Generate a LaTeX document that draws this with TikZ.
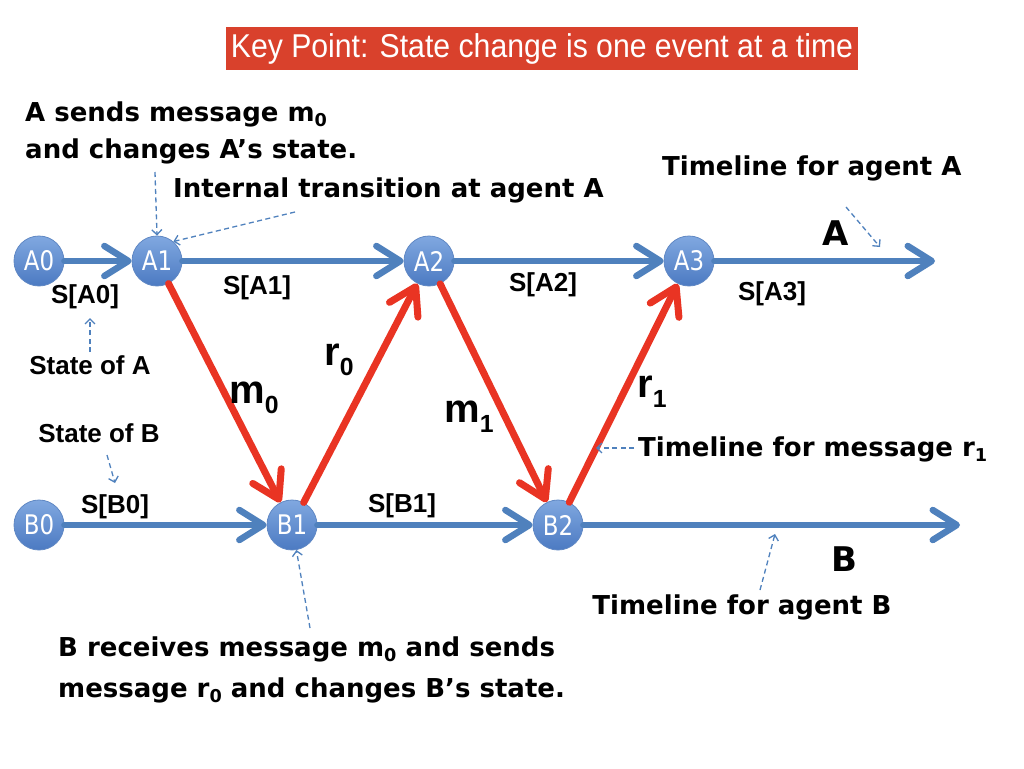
\documentclass[tikz,border=0pt]{standalone}
\usepackage{fontspec}
\usepackage{graphicx}
\setmainfont{Liberation Sans}
\newfontfamily\tah{DejaVu Sans}
\newfontfamily\tahc[FakeStretch=0.85]{DejaVu Sans}
\newfontfamily\arn[FakeStretch=0.915]{Liberation Sans}
\usetikzlibrary{arrows.meta}
\definecolor{tlblue}{RGB}{79,129,189}
\definecolor{msgred}{RGB}{233,52,35}
\definecolor{keyred}{RGB}{217,65,44}
\definecolor{ballhi}{RGB}{128,168,224}
\definecolor{balllo}{RGB}{76,122,194}
\definecolor{ballrim}{RGB}{96,136,196}
\newcommand\lo[1]{\raisebox{-0.22em}{\scalebox{0.68}{#1}}}
\newcommand\bigsub[1]{\raisebox{-0.27em}{\scalebox{0.62}{#1}}}
\begin{document}
\begin{tikzpicture}[x=1pt,y=-1pt,
  ev/.style={circle, minimum size=50pt, inner sep=0pt, top color=ballhi, bottom color=balllo,
    draw=ballrim, line width=0.8pt, text=white, font=\tahc\fontsize{27}{27}\selectfont},
  tl/.style={draw=tlblue, line width=6.5pt, line cap=round, line join=round,
    -{Straight Barb[length=24pt,width=30pt,line cap=round,line join=round]}},
  msg/.style={draw=msgred, line width=7pt, line cap=round, line join=round,
    -{Straight Barb[length=26pt,width=32pt,line cap=round,line join=round]}},
  ptr/.style={draw=tlblue, line width=1.3pt, dash pattern=on 5pt off 3.5pt,
    -{Straight Barb[length=5pt,width=10pt]}},
  ann/.style={font=\tah\bfseries\fontsize{26}{30}\selectfont, inner sep=0pt},
  lab/.style={font=\bfseries\fontsize{26}{30}\selectfont, inner sep=0pt},
  lbl/.style={font=\bfseries\fontsize{40}{40}\selectfont, inner sep=0pt},
  agent/.style={font=\tah\bfseries\fontsize{34}{34}\selectfont, inner sep=0pt},
]
\useasboundingbox (0,0) rectangle (1024,768);
\fill[white] (0,0) rectangle (1024,768);

% title
\node[fill=keyred, text=white, font=\arn\fontsize{33}{33}\selectfont, minimum width=632pt,
  minimum height=43pt, inner sep=0pt] (key) at (542,48.5)
  {Key Point: State change is one event at a time};

% event nodes
\node[ev] (A0) at (39,261) {A0};
\node[ev] (A1) at (157,261) {A1};
\node[ev] (A2) at (429,261) {A2};
\node[ev] (A3) at (689,261) {A3};
\node[ev] (B0) at (39,525) {B0};
\node[ev] (B1) at (292,525) {B1};
\node[ev] (B2) at (558,525) {B2};
\coordinate (Aend) at (935,261);
\coordinate (Bend) at (960,525);

% timelines
\draw[tl] (A0) -- (A1);
\draw[tl] (A1) -- (A2);
\draw[tl] (A2) -- (A3);
\draw[tl] (A3) -- (Aend);
\draw[tl] (B0) -- (B1);
\draw[tl] (B1) -- (B2);
\draw[tl] (B2) -- (Bend);

% messages
\draw[msg] (A1) -- (B1);
\draw[msg] (B1) -- (A2);
\draw[msg] (A2) -- (B2);
\draw[msg] (B2) -- (A3);

% state labels
\node[lab] (sa0) at (85,297) {S[A0]};
\node[lab] (sa1) at (257,288) {S[A1]};
\node[lab] (sa2) at (543,285) {S[A2]};
\node[lab] (sa3) at (772,294) {S[A3]};
\node[lab] (sb0) at (115,507) {S[B0]};
\node[lab] (sb1) at (402,506) {S[B1]};
\node[lab] (stA) at (90,365) {State of A};
\node[lab] (stB) at (99,433) {State of B};

% message labels
\node[lbl, anchor=base west] (m0) at (229,403) {m\bigsub{0}};
\node[lbl, anchor=base west] (r0) at (324,365) {r\bigsub{0}};
\node[lbl, anchor=base west] (m1) at (444,422) {m\bigsub{1}};
\node[lbl, anchor=base west] (r1) at (637,397) {r\bigsub{1}};

% agent labels
\node[agent, anchor=base] (Alab) at (836,245) {A};
\node[agent, anchor=base] (Blab) at (844,571) {B};

% annotations
\node[ann, anchor=base west] (t1) at (25,121) {A sends message m\lo{0}};
\node[ann, anchor=base west] (t2) at (25,158) {and changes A’s state.};
\node[ann, anchor=base west] (t3) at (173,197) {Internal transition at agent A};
\node[ann, anchor=base west] (t4) at (662,175) {Timeline for agent A};
\node[ann, anchor=base west] (t5) at (638,456) {Timeline for message r\lo{1}};
\node[ann, anchor=base] (t6) at (742,614) {Timeline for agent B};
\node[ann, anchor=base west] (t7) at (58,656) {B receives message m\lo{0} and sends};
\node[ann, anchor=base west] (t8) at (58,697) {message r\lo{0} and changes B’s state.};

% pointers
\coordinate (p1) at (155,172);
\coordinate (p2) at (295,212);
\coordinate (p3a) at (846,207);
\coordinate (p3b) at (880,247);
\coordinate (p4a) at (90,352);
\coordinate (p4b) at (90,318);
\coordinate (p5a) at (107,455);
\coordinate (p5b) at (115,483);
\coordinate (p6a) at (634,448);
\coordinate (p6b) at (596,448);
\coordinate (p7) at (310,628);
\coordinate (p8a) at (760,590);
\coordinate (p8b) at (775,534);
\draw[ptr] (p1) -- (A1.north);
\draw[ptr] (p2) -- (A1.50);
\draw[ptr] (p3a) -- (p3b);
\draw[ptr] (p4a) -- (p4b);
\draw[ptr] (p5a) -- (p5b);
\draw[ptr] (p6a) -- (p6b);
\draw[ptr] (p7) -- (B1);
\draw[ptr] (p8a) -- (p8b);
\end{tikzpicture}
\end{document}
